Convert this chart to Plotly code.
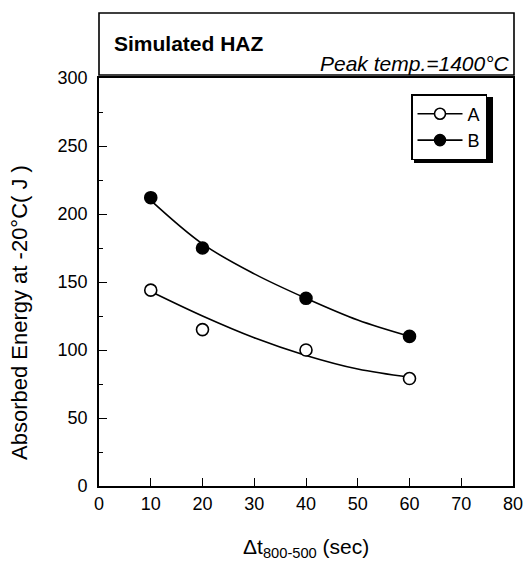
import plotly.graph_objects as go

# Data
x_pts = [10, 20, 40, 60]
a_vals = [144, 115, 100, 79]
b_vals = [212, 175, 138, 110]

# Fitted curves
curve_x = [10, 20, 30, 40, 50, 60]
a_curve = [143, 125, 109, 96, 86, 80]
b_curve = [210, 178, 156, 138, 122, 110]

x_ticks = [0, 10, 20, 30, 40, 50, 60, 70, 80]
y_ticks = [0, 50, 100, 150, 200, 250, 300]

FONT = "Liberation Sans, Arial, Helvetica, sans-serif"

W, H = 525, 561
# plot area in pixels: left 99, right 513, top 78, bottom 486
L, R, T, B = 99, W - 513, 78, H - 486
PW = W - L - R
PH = H - T - B


def px_x(p):
    return (p - L) / PW


def px_y(p):
    return 1 - (p - T) / PH


fig = go.Figure()

fig.add_trace(go.Scatter(x=curve_x, y=a_curve, mode="lines", line=dict(color="black", width=1.6, shape="spline"),
                         showlegend=False, hoverinfo="skip"))
fig.add_trace(go.Scatter(x=curve_x, y=b_curve, mode="lines", line=dict(color="black", width=1.6, shape="spline"),
                         showlegend=False, hoverinfo="skip"))
fig.add_trace(go.Scatter(x=x_pts, y=a_vals, mode="markers",
                         marker=dict(symbol="circle", size=12, color="white", line=dict(color="black", width=1.6)),
                         showlegend=False))
fig.add_trace(go.Scatter(x=x_pts, y=b_vals, mode="markers",
                         marker=dict(symbol="circle", size=12, color="black", line=dict(color="black", width=1.6)),
                         showlegend=False))
# legend entries
fig.add_trace(go.Scatter(x=[None], y=[None], mode="lines+markers", name="A",
                         line=dict(color="black", width=1.6),
                         marker=dict(symbol="circle", size=11, color="white", line=dict(color="black", width=1.6))))
fig.add_trace(go.Scatter(x=[None], y=[None], mode="lines+markers", name="B",
                         line=dict(color="black", width=1.6),
                         marker=dict(symbol="circle", size=11, color="black", line=dict(color="black", width=1.6))))

fig.update_layout(
    width=W, height=H,
    margin=dict(l=L, r=R, t=T, b=B),
    paper_bgcolor="white", plot_bgcolor="white",
    font=dict(family=FONT, size=18, color="black"),
    showlegend=True,
    legend=dict(x=px_x(411), y=px_y(94), xanchor="left", yanchor="top",
                bgcolor="white", bordercolor="black", borderwidth=1.5,
                font=dict(size=18, family=FONT), tracegroupgap=0,
                itemwidth=45),
    xaxis=dict(range=[0, 80], tickvals=x_ticks, ticks="inside", ticklen=8, tickwidth=1.2,
               tickcolor="black", showline=True, linecolor="black", linewidth=1.8, mirror=True,
               showgrid=False, zeroline=False, tickfont=dict(size=18), automargin=False),
    yaxis=dict(range=[0, 300], tickvals=y_ticks, ticks="inside", ticklen=8, tickwidth=1.2,
               tickcolor="black", showline=True, linecolor="black", linewidth=1.8, mirror=True,
               showgrid=False, zeroline=False, tickfont=dict(size=18), automargin=False,
               ticklabelstandoff=6,
               minor=dict(dtick=25, ticks="inside", ticklen=4, tickwidth=1, tickcolor="black")),
)

# Axis titles placed as in the reference
fig.add_annotation(text="Absorbed Energy at -20°C( J )", xref="paper", yref="paper",
                   x=px_x(19), y=px_y(313), xanchor="center", yanchor="middle", textangle=-90,
                   showarrow=False, font=dict(size=22, family=FONT))
fig.add_annotation(text="Δt<sub>800-500</sub> (sec)", xref="paper", yref="paper",
                   x=px_x(306), y=px_y(548), xanchor="center", yanchor="middle",
                   showarrow=False, font=dict(size=21, family=FONT))

# Legend shadow
fig.add_shape(type="rect", xref="paper", yref="paper", x0=px_x(414), x1=px_x(493), y0=px_y(163), y1=px_y(97),
              line=dict(width=0), fillcolor="black", layer="above")

# Title box above plot
fig.add_shape(type="rect", xref="paper", yref="paper", x0=px_x(99), x1=px_x(514), y0=px_y(75), y1=px_y(13),
              line=dict(color="black", width=1.6), fillcolor="white", layer="above")
fig.add_annotation(text="<b>Simulated HAZ</b>", xref="paper", yref="paper", x=px_x(112), y=px_y(43),
                   xanchor="left", yanchor="middle", showarrow=False, font=dict(size=21, family=FONT))
fig.add_annotation(text="<i>Peak temp.=1400°C</i>", xref="paper", yref="paper", x=px_x(512), y=px_y(63.5),
                   xanchor="right", yanchor="middle", showarrow=False, font=dict(size=21, family=FONT))

fig.write_html(
    "out.html",
    config={"displayModeBar": False},
    post_script="document.body.style.margin='0';"
                "document.body.style.overflow='hidden';"
                "document.documentElement.style.overflow='hidden';",
)
